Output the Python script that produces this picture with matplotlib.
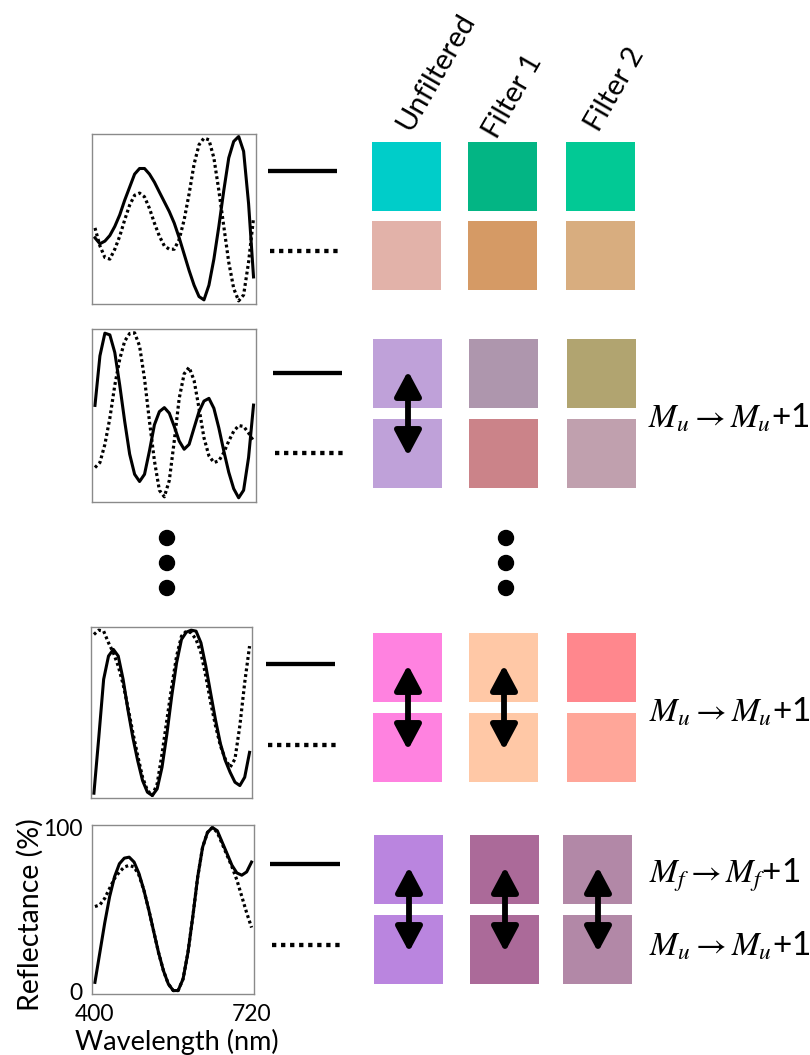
import numpy as np
import matplotlib
matplotlib.use("Agg")
import matplotlib.pyplot as plt
from matplotlib.patches import Rectangle, Circle

plt.rcParams['font.family'] = ['Lato', 'DejaVu Sans']
plt.rcParams['mathtext.fontset'] = 'stix'

# ---------------- data ----------------
wavelength = np.arange(400, 721, 10)

p1_solid = [38.6, 35, 36.6, 40, 45.5, 52.5, 61.4, 69.3, 77.2, 80.6, 80.6, 77.2, 72.3, 66.3, 60.4, 54.5, 47.5,
            38.6, 28.7, 18.8, 9.9, 3, 1, 9.9, 25.7, 45.5, 67.3, 87, 97, 100, 91, 59.4, 14.9]
p1_dotted = [44.6, 33.7, 26.7, 25.7, 31.7, 39.6, 49.5, 58.4, 64.4, 65.7, 63.4, 56.4, 47.5, 39.6, 33.7, 31.7, 31.7,
             37.6, 49.5, 65.3, 83.2, 95, 99, 98, 87, 67.3, 45.5, 23.8, 7.9, 0.4, 4, 23.8, 50.5]

p2_solid = [56, 85.5, 99, 98, 87.5, 68, 46.5, 27, 15, 10.7, 15, 29, 44.5, 52.3, 54.7, 51.4, 43.5,
            34.8, 29.9, 32.8, 42.6, 52.3, 58.6, 60.2, 54.3, 42.6, 28.9, 16.2, 6.4, 1, 5.5, 25, 56.2]
p2_dotted = [19, 22, 32.8, 48.4, 68, 83.6, 94.3, 98.8, 99.2, 91.4, 71.9, 46.5, 23, 5.5, 1.6, 11.3, 34.8,
             60.2, 74.8, 78.7, 70.9, 54.3, 36.7, 26, 22, 23, 27.9, 34.8, 40.6, 44, 43.5, 39.6, 34.8]

p3_solid = [1.4, 35, 70, 84, 88, 84, 70, 51.5, 35, 21, 9, 2, 0, 4, 17, 37, 60,
            80, 94, 98.4, 99.6, 99, 92, 78, 61.6, 45.5, 31.3, 21.2, 14, 8, 6, 11, 26]
p3_dotted = [97, 99.6, 99, 92, 86, 78, 67, 53, 38, 24, 11, 3, 0, 7, 25, 45.5, 65.7,
             84, 96, 99, 98, 94, 86, 72, 56, 42, 30, 22, 17, 22, 42, 68, 90]

p4_solid = [5.6, 23.7, 41.8, 57.8, 69.9, 77.9, 81.3, 81.9, 78.9, 71.9, 61.8, 49.8, 36.7, 23.7, 12.7, 4.6, 0.6,
            0.6, 7.6, 23.7, 45.8, 69.9, 88, 97, 100, 98, 91, 84, 76.9, 72.3, 70.9, 72.9, 78.9]
p4_dotted = [51.8, 52.8, 56.8, 62.9, 68.9, 72.9, 75.9, 76.9, 75.9, 70.9, 61.8, 49.8, 36.7, 23.7, 12.7, 4.6, 0.6,
             0.6, 7.6, 23.7, 45.8, 69.9, 88, 97, 100, 97, 90, 83, 76, 68, 58, 48, 39]

spectra = [(p1_solid, p1_dotted), (p2_solid, p2_dotted), (p3_solid, p3_dotted), (p4_solid, p4_dotted)]

column_labels = ["Unfiltered", "Filter 1", "Filter 2"]
x_ticks = [400, 720]
y_ticks = [0, 100]

# colours: rows of (top swatch triple, bottom swatch triple)
colors_row1 = (["#00CDC9", "#03B584", "#02C995"], ["#E2B2A9", "#D59A65", "#D8AD7F"])
colors_row2 = (["#BFA1D9", "#AE96AD", "#B1A470"], ["#BFA1D9", "#CB8389", "#C0A0AE"])
colors_row3 = (["#FF82E0", "#FFC8A6", "#FF878D"], ["#FF82E0", "#FFC8A6", "#FFA699"])
colors_row4 = (["#BA85DF", "#AB6A99", "#B288A7"], ["#BA85DF", "#AB6A99", "#B288A7"])
swatch_colors = [colors_row1, colors_row2, colors_row3, colors_row4]

# which columns have a double arrow (metamer) in each row
arrow_cols = [[], [0], [0, 1], [0, 1, 2]]

row_labels = [[], [r"$M_u \rightarrow M_u$+1"], [r"$M_u \rightarrow M_u$+1"],
              [r"$M_f \rightarrow M_f$+1", r"$M_u \rightarrow M_u$+1"]]

# ---------------- layout (pixels) ----------------
W, H = 810, 1055
fig = plt.figure(figsize=(W / 100, H / 100), dpi=100)
canvas = fig.add_axes([0, 0, 1, 1])
canvas.set_xlim(0, W)
canvas.set_ylim(H, 0)
canvas.axis('off')


def px_axes(x0, y0, x1, y1):
    return fig.add_axes([x0 / W, 1 - y1 / H, (x1 - x0) / W, (y1 - y0) / H])


panel_boxes = [(92, 134, 256, 304), (92, 329, 256, 502), (91, 627, 252, 798), (92, 825, 254, 994)]
legend_pos = [((268, 337), 171, 251), ((273, 342), 373, 453), ((266, 335), 664, 745), ((270, 340), 864, 945)]
swatch_cols_x = [[372, 468, 566], [373, 469, 567], [373, 469, 567], [374, 470, 563]]
swatch_rows_y = [(142, 221), (339, 419), (633, 713), (835, 915)]
SW = 69
label_pos = [[], [(648, 418)], [(649, 712)], [(649, 875), (649, 946)]]

for i, (box, (solid, dotted)) in enumerate(zip(panel_boxes, spectra)):
    ax = px_axes(*box)
    ax.plot(wavelength, solid, color='black', lw=2.2, solid_joinstyle='round')
    ax.plot(wavelength, dotted, color='black', lw=2.3, linestyle=(0, (0.9, 0.9)), dash_capstyle='butt')
    ax.set_xlim(394, 725)
    ax.set_ylim(-1.5, 101.5)
    for s in ax.spines.values():
        s.set_color('#8a8a8a')
        s.set_linewidth(1.0)
    ax.tick_params(length=0)
    if i == 3:
        ax.set_xticks(x_ticks)
        ax.set_yticks(y_ticks)
        ax.tick_params(axis='x', labelsize=16.5, pad=7)
        ax.tick_params(axis='y', labelsize=16.5, pad=7)
        x0, y0, x1, y1 = box
        ax.set_xlabel("Wavelength (nm)", fontsize=19.5)
        ax.set_ylabel("Reflectance (%)", fontsize=20.5)
        ax.xaxis.set_label_coords((177 - x0) / (x1 - x0), (y1 - 1029) / (y1 - y0))
        ax.yaxis.set_label_coords((44 - x0) / (x1 - x0), (y1 - 915) / (y1 - y0))
    else:
        ax.set_xticks([])
        ax.set_yticks([])

    (lx0, lx1), ys, yd = legend_pos[i]
    canvas.plot([lx0, lx1], [ys, ys], color='black', lw=3.1, solid_capstyle='butt')
    canvas.plot([lx0 + 2, lx1 + 1], [yd, yd], color='black', lw=3.1, linestyle=(0, (1.0, 1.1)),
                dash_capstyle='butt')

    top_c, bot_c = swatch_colors[i]
    yt, yb = swatch_rows_y[i]
    for j, x in enumerate(swatch_cols_x[i]):
        canvas.add_patch(Rectangle((x, yt), SW, SW, facecolor=top_c[j], edgecolor='none'))
        canvas.add_patch(Rectangle((x, yb), SW, SW, facecolor=bot_c[j], edgecolor='none'))
    for j in arrow_cols[i]:
        xc = swatch_cols_x[i][j] + 35
        canvas.annotate('', xy=(xc, yt + 32), xytext=(xc, yb + 37),
                        arrowprops=dict(arrowstyle='<|-|>,head_length=0.75,head_width=0.4',
                                        lw=4.2, color='black', shrinkA=0, shrinkB=0,
                                        mutation_scale=20))
    for (tx, ty), txt in zip(label_pos[i], row_labels[i]):
        canvas.text(tx, ty, txt, fontsize=24, ha='left', va='center')

# column headers
header_centers = [(436, 72), (513, 96), (615, 89)]
for (cx, cy), t in zip(header_centers, column_labels):
    canvas.text(cx, cy, t, rotation=60, fontsize=21, ha='center', va='center')

# ellipsis dots
for xd in (167, 506):
    for yd in (538, 563, 588):
        canvas.add_patch(Circle((xd, yd), 7.5, color='black'))

fig.savefig('out.png', dpi=100)
